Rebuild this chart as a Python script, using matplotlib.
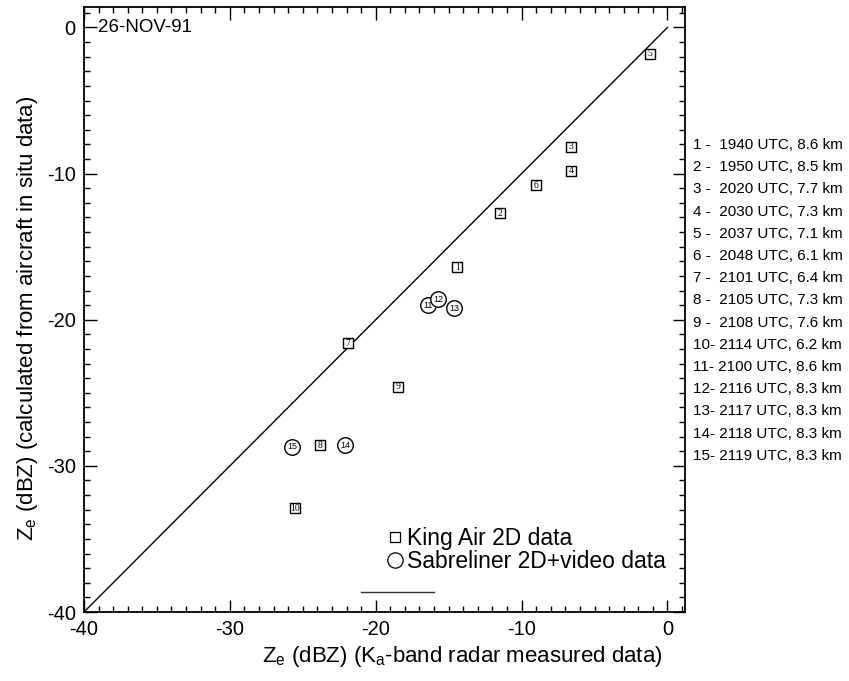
import matplotlib
matplotlib.use('Agg')
import matplotlib.pyplot as plt
from matplotlib.lines import Line2D
from matplotlib.ticker import MultipleLocator

plt.rcParams['font.family'] = ['Liberation Sans', 'DejaVu Sans']
plt.rcParams['axes.unicode_minus'] = False

# King Air 2D data (squares)
king_num = [1, 2, 3, 4, 5, 6, 7, 8, 9, 10]
king_x = [-14.4, -11.5, -6.6, -6.6, -1.2, -9.0, -21.9, -23.8, -18.5, -25.5]
king_y = [-16.4, -12.7, -8.15, -9.8, -1.8, -10.8, -21.6, -28.6, -24.6, -32.9]

# Sabreliner 2D+video data (circles)
sabre_num = [11, 12, 13, 14, 15]
sabre_x = [-16.4, -15.7, -14.6, -22.1, -25.75]
sabre_y = [-19.0, -18.6, -19.2, -28.6, -28.7]

# flight legs listed at the right
leg_num = list(range(1, 16))
leg_time = ['1940', '1950', '2020', '2030', '2037', '2048', '2101', '2105',
            '2108', '2114', '2100', '2116', '2117', '2118', '2119']
leg_alt = ['8.6', '8.5', '7.7', '7.3', '7.1', '6.1', '6.4', '7.3',
           '7.6', '6.2', '8.6', '8.3', '8.3', '8.3', '8.3']

one_to_one = [-40, 0]
stub_x = [-21.0, -16.0]
stub_y = [-38.6, -38.6]

fig = plt.figure(figsize=(8.49, 6.81), dpi=100)
ax = fig.add_axes([0.0989, 0.1013, 0.7079, 0.8884])

ax.plot(one_to_one, one_to_one, color='black', lw=1.0)
ax.plot(stub_x, stub_y, color='#333333', lw=1.0)

ax.scatter(king_x, king_y, marker='s', s=62, facecolor='white',
           edgecolor='black', linewidths=1.0, zorder=3)
for n, x, y in zip(king_num, king_x, king_y):
    ax.text(x, y, str(n), ha='center', va='center', fontsize=7,
            family='Liberation Serif', zorder=4)

ax.scatter(sabre_x, sabre_y, marker='o', s=125, facecolor='white',
           edgecolor='black', linewidths=1.0, zorder=3)
for n, x, y in zip(sabre_num, sabre_x, sabre_y):
    ax.text(x, y, str(n), ha='center', va='center', fontsize=6.5, zorder=4)

ax.set_xlim(-40, 1.2)
ax.set_ylim(-40, 1.4)
ax.xaxis.set_major_locator(MultipleLocator(10))
ax.yaxis.set_major_locator(MultipleLocator(10))
ax.xaxis.set_minor_locator(MultipleLocator(1))
ax.yaxis.set_minor_locator(MultipleLocator(1))
ax.tick_params(which='both', direction='in', top=True, right=True,
               labelsize=14.5, width=1.0)
ax.tick_params(which='major', length=9, pad=6)
ax.tick_params(which='minor', length=4.5)
for sp in ax.spines.values():
    sp.set_linewidth(1.3)

ax.set_xlabel(r'$\mathregular{Z_e}$ (dBZ) ($\mathregular{K_a}$-band radar measured data)',
              fontsize=16, labelpad=3, x=0.63)
ax.set_ylabel(r'$\mathregular{Z_e}$ (dBZ) (calculated from aircraft in situ data)',
              fontsize=16, labelpad=5, y=0.485)

ax.text(0.023, 0.966, '26-NOV-91', transform=ax.transAxes, fontsize=13.5,
        ha='left', va='center')

handles = [Line2D([], [], ls='', marker='s', ms=7, mfc='white', mec='black', mew=0.9),
           Line2D([], [], ls='', marker='o', ms=11, mfc='white', mec='black', mew=0.9)]
ax.legend(handles, ['King Air 2D data', 'Sabreliner 2D+video data'],
          loc='upper left', bbox_to_anchor=(0.505, 0.14), frameon=False,
          fontsize=16.5, handlelength=0.7, handletextpad=0.15,
          labelspacing=0.0, borderpad=0, borderaxespad=0)

for i, (n, t, a) in enumerate(zip(leg_num, leg_time, leg_alt)):
    sep = ' -  ' if n < 10 else '- '
    fig.text(0.816, 1 - (145 + 22.2 * i) / 681, f'{n}{sep}{t} UTC, {a} km',
             fontsize=11, ha='left', va='center')

fig.savefig('out.png', dpi=100)
